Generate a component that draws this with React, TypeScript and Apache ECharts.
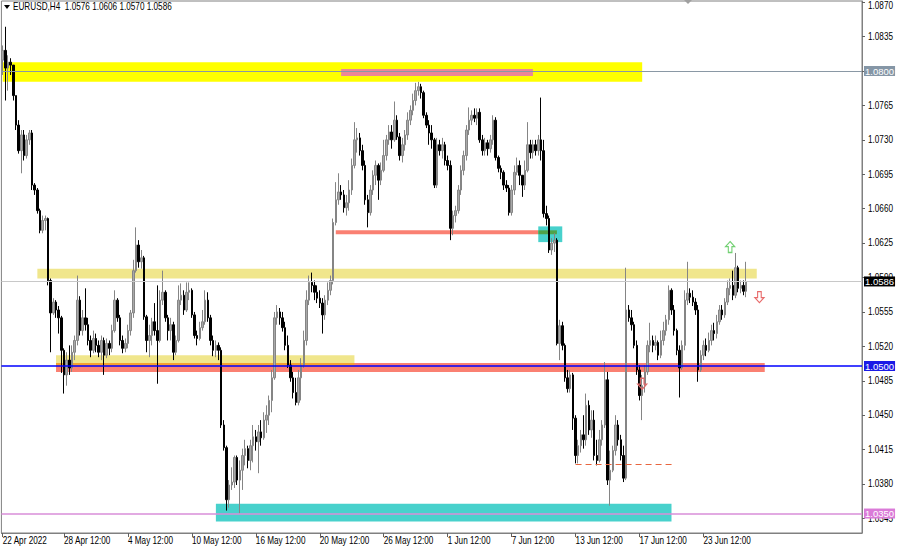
import React, { useEffect, useRef } from "react";
import * as echarts from "echarts";

const symbolName = "EURUSD";
const timeframe = "H4";
const firstOpen = 1.0811;

const closes = [
  1.0821, 1.0803, 1.0809, 1.0806, 1.0775, 1.0745, 1.0719, 1.0735, 1.0714, 1.0730,
  1.0737, 1.0684, 1.0679, 1.0658, 1.0638, 1.0648, 1.0650, 1.0587, 1.0554, 1.0565,
  1.0557, 1.0549, 1.0516, 1.0491, 1.0506, 1.0498, 1.0514, 1.0526, 1.0567, 1.0536,
  1.0549, 1.0542, 1.0526, 1.0516, 1.0528, 1.0521, 1.0514, 1.0526, 1.0511, 1.0523,
  1.0518, 1.0536, 1.0567, 1.0549, 1.0526, 1.0518, 1.0523, 1.0536, 1.0554, 1.0597,
  1.0623, 1.0606, 1.0610, 1.0550, 1.0526, 1.0531, 1.0545, 1.0536, 1.0526, 1.0567,
  1.0575, 1.0549, 1.0536, 1.0542, 1.0514, 1.0526, 1.0567, 1.0572, 1.0557, 1.0575,
  1.0577, 1.0552, 1.0531, 1.0528, 1.0539, 1.0545, 1.0567, 1.0549, 1.0526, 1.0516,
  1.0521, 1.0516, 1.0440, 1.0417, 1.0364, 1.0379, 1.0382, 1.0407, 1.0384, 1.0394,
  1.0409, 1.0416, 1.0404, 1.0419, 1.0428, 1.0423, 1.0433, 1.0427, 1.0445, 1.0450,
  1.0465, 1.0488, 1.0549, 1.0555, 1.0549, 1.0539, 1.0521, 1.0501, 1.0488, 1.0473,
  1.0463, 1.0488, 1.0501, 1.0526, 1.0567, 1.0585, 1.0582, 1.0575, 1.0569, 1.0564,
  1.0552, 1.0567, 1.0577, 1.0587, 1.0646, 1.0669, 1.0677, 1.0674, 1.0661, 1.0666,
  1.0679, 1.0704, 1.0730, 1.0732, 1.0719, 1.0704, 1.0669, 1.0656, 1.0679, 1.0694,
  1.0704, 1.0689, 1.0699, 1.0714, 1.0730, 1.0738, 1.0730, 1.0750, 1.0733, 1.0714,
  1.0725, 1.0735, 1.0750, 1.0760, 1.0770, 1.0780, 1.0784, 1.0778, 1.0755, 1.0745,
  1.0737, 1.0730, 1.0684, 1.0725, 1.0719, 1.0725, 1.0709, 1.0704, 1.0640, 1.0653,
  1.0658, 1.0679, 1.0699, 1.0714, 1.0740, 1.0750, 1.0755, 1.0752, 1.0758, 1.0730,
  1.0719, 1.0727, 1.0721, 1.0730, 1.0750, 1.0712, 1.0701, 1.0697, 1.0684, 1.0681,
  1.0656, 1.0679, 1.0697, 1.0704, 1.0694, 1.0684, 1.0699, 1.0725, 1.0717, 1.0725,
  1.0719, 1.0730, 1.0719, 1.0655, 1.0650, 1.0618, 1.0625, 1.0628, 1.0523, 1.0541,
  1.0521, 1.0488, 1.0477, 1.0491, 1.0447, 1.0409, 1.0419, 1.0430, 1.0425, 1.0460,
  1.0435, 1.0445, 1.0409, 1.0404, 1.0425, 1.0440, 1.0486, 1.0384, 1.0394, 1.0414,
  1.0440, 1.0425, 1.0409, 1.0386, 1.0557, 1.0549, 1.0542, 1.0521, 1.0496, 1.0470,
  1.0480, 1.0494, 1.0521, 1.0526, 1.0521, 1.0524, 1.0511, 1.0526, 1.0536, 1.0547,
  1.0577, 1.0557, 1.0536, 1.0516, 1.0498, 1.0521, 1.0567, 1.0574, 1.0570, 1.0565,
  1.0557, 1.0496, 1.0511, 1.0521, 1.0516, 1.0526, 1.0536, 1.0533, 1.0545, 1.0557,
  1.0552, 1.0565, 1.0579, 1.0582, 1.0572, 1.0600, 1.0579, 1.0582, 1.0576, 1.0586,
];

const highs = [
  1.0826, 1.0845, 1.0816, 1.0813, 1.0806, 1.0775, 1.0750, 1.0740, 1.0740, 1.0735,
  1.0740, 1.0740, 1.0686, 1.0681, 1.0660, 1.0653, 1.0653, 1.0651, 1.0589, 1.0569,
  1.0567, 1.0561, 1.0551, 1.0518, 1.0514, 1.0521, 1.0521, 1.0531, 1.0592, 1.0571,
  1.0557, 1.0579, 1.0549, 1.0531, 1.0536, 1.0533, 1.0526, 1.0531, 1.0529, 1.0528,
  1.0526, 1.0542, 1.0577, 1.0569, 1.0552, 1.0531, 1.0528, 1.0542, 1.0557, 1.0608,
  1.0641, 1.0628, 1.0618, 1.0612, 1.0552, 1.0542, 1.0549, 1.0564, 1.0582, 1.0577,
  1.0597, 1.0577, 1.0552, 1.0549, 1.0545, 1.0531, 1.0582, 1.0584, 1.0577, 1.0585,
  1.0585, 1.0579, 1.0555, 1.0536, 1.0545, 1.0557, 1.0577, 1.0575, 1.0552, 1.0531,
  1.0526, 1.0524, 1.0519, 1.0445, 1.0419, 1.0384, 1.0397, 1.0409, 1.0409, 1.0404,
  1.0416, 1.0425, 1.0419, 1.0425, 1.0440, 1.0435, 1.0440, 1.0445, 1.0453, 1.0460,
  1.0470, 1.0496, 1.0555, 1.0562, 1.0559, 1.0555, 1.0545, 1.0531, 1.0506, 1.0494,
  1.0488, 1.0496, 1.0508, 1.0536, 1.0577, 1.0592, 1.0595, 1.0587, 1.0582, 1.0577,
  1.0569, 1.0572, 1.0585, 1.0592, 1.0650, 1.0687, 1.0696, 1.0684, 1.0679, 1.0674,
  1.0689, 1.0711, 1.0748, 1.0742, 1.0737, 1.0725, 1.0709, 1.0674, 1.0684, 1.0699,
  1.0709, 1.0706, 1.0707, 1.0730, 1.0735, 1.0745, 1.0745, 1.0769, 1.0755, 1.0737,
  1.0732, 1.0740, 1.0758, 1.0765, 1.0777, 1.0788, 1.0789, 1.0787, 1.0780, 1.0758,
  1.0750, 1.0745, 1.0732, 1.0732, 1.0730, 1.0732, 1.0728, 1.0714, 1.0709, 1.0658,
  1.0663, 1.0684, 1.0704, 1.0719, 1.0745, 1.0763, 1.0760, 1.0762, 1.0762, 1.0762,
  1.0735, 1.0732, 1.0730, 1.0735, 1.0755, 1.0753, 1.0714, 1.0704, 1.0699, 1.0689,
  1.0684, 1.0684, 1.0704, 1.0712, 1.0709, 1.0694, 1.0709, 1.0748, 1.0730, 1.0730,
  1.0730, 1.0735, 1.0773, 1.0730, 1.0663, 1.0653, 1.0630, 1.0635, 1.0630, 1.0547,
  1.0545, 1.0523, 1.0496, 1.0496, 1.0493, 1.0450, 1.0425, 1.0435, 1.0450, 1.0472,
  1.0465, 1.0455, 1.0455, 1.0425, 1.0435, 1.0445, 1.0504, 1.0494, 1.0414, 1.0419,
  1.0450, 1.0445, 1.0430, 1.0419, 1.0600, 1.0562, 1.0557, 1.0545, 1.0526, 1.0501,
  1.0491, 1.0501, 1.0526, 1.0544, 1.0531, 1.0531, 1.0526, 1.0536, 1.0545, 1.0552,
  1.0582, 1.0579, 1.0562, 1.0538, 1.0521, 1.0526, 1.0577, 1.0606, 1.0579, 1.0577,
  1.0569, 1.0562, 1.0516, 1.0526, 1.0528, 1.0534, 1.0542, 1.0544, 1.0552, 1.0562,
  1.0562, 1.0569, 1.0587, 1.0589, 1.0597, 1.0615, 1.0602, 1.0587, 1.0587, 1.0606,
];

const lows = [
  1.0796, 1.0770, 1.0780, 1.0796, 1.0770, 1.0740, 1.0716, 1.0696, 1.0709, 1.0711,
  1.0725, 1.0679, 1.0674, 1.0655, 1.0635, 1.0635, 1.0638, 1.0582, 1.0514, 1.0552,
  1.0549, 1.0533, 1.0493, 1.0472, 1.0480, 1.0491, 1.0494, 1.0506, 1.0521, 1.0531,
  1.0531, 1.0536, 1.0521, 1.0509, 1.0513, 1.0514, 1.0509, 1.0506, 1.0491, 1.0508,
  1.0511, 1.0514, 1.0534, 1.0545, 1.0521, 1.0513, 1.0514, 1.0518, 1.0531, 1.0549,
  1.0595, 1.0600, 1.0599, 1.0547, 1.0514, 1.0509, 1.0521, 1.0531, 1.0482, 1.0524,
  1.0562, 1.0545, 1.0526, 1.0526, 1.0506, 1.0511, 1.0524, 1.0562, 1.0552, 1.0555,
  1.0567, 1.0549, 1.0528, 1.0521, 1.0526, 1.0536, 1.0542, 1.0545, 1.0521, 1.0510,
  1.0509, 1.0506, 1.0437, 1.0414, 1.0353, 1.0356, 1.0374, 1.0376, 1.0379, 1.0350,
  1.0374, 1.0399, 1.0396, 1.0394, 1.0402, 1.0414, 1.0391, 1.0419, 1.0425, 1.0432,
  1.0440, 1.0453, 1.0486, 1.0542, 1.0542, 1.0535, 1.0516, 1.0498, 1.0484, 1.0467,
  1.0460, 1.0460, 1.0465, 1.0498, 1.0521, 1.0562, 1.0575, 1.0567, 1.0564, 1.0559,
  1.0533, 1.0547, 1.0562, 1.0572, 1.0583, 1.0643, 1.0664, 1.0669, 1.0656, 1.0653,
  1.0658, 1.0674, 1.0701, 1.0717, 1.0714, 1.0699, 1.0664, 1.0641, 1.0653, 1.0674,
  1.0684, 1.0669, 1.0684, 1.0697, 1.0709, 1.0725, 1.0721, 1.0728, 1.0730, 1.0709,
  1.0707, 1.0719, 1.0730, 1.0745, 1.0755, 1.0765, 1.0775, 1.0772, 1.0752, 1.0742,
  1.0725, 1.0721, 1.0681, 1.0681, 1.0714, 1.0711, 1.0704, 1.0699, 1.0628, 1.0633,
  1.0646, 1.0655, 1.0674, 1.0694, 1.0709, 1.0735, 1.0745, 1.0748, 1.0745, 1.0727,
  1.0714, 1.0714, 1.0714, 1.0717, 1.0725, 1.0709, 1.0697, 1.0690, 1.0679, 1.0677,
  1.0653, 1.0653, 1.0674, 1.0694, 1.0684, 1.0672, 1.0679, 1.0697, 1.0711, 1.0711,
  1.0714, 1.0714, 1.0709, 1.0651, 1.0643, 1.0615, 1.0613, 1.0616, 1.0521, 1.0506,
  1.0516, 1.0484, 1.0473, 1.0473, 1.0435, 1.0401, 1.0401, 1.0412, 1.0416, 1.0419,
  1.0430, 1.0427, 1.0404, 1.0399, 1.0402, 1.0419, 1.0437, 1.0379, 1.0358, 1.0392,
  1.0409, 1.0419, 1.0404, 1.0382, 1.0384, 1.0545, 1.0536, 1.0518, 1.0491, 1.0465,
  1.0445, 1.0473, 1.0491, 1.0514, 1.0514, 1.0516, 1.0506, 1.0508, 1.0521, 1.0531,
  1.0542, 1.0552, 1.0531, 1.0511, 1.0468, 1.0496, 1.0516, 1.0562, 1.0564, 1.0561,
  1.0552, 1.0484, 1.0494, 1.0506, 1.0510, 1.0514, 1.0521, 1.0526, 1.0528, 1.0542,
  1.0547, 1.0549, 1.0562, 1.0572, 1.0567, 1.0569, 1.0575, 1.0574, 1.0572, 1.0570,
];

// axis
const totalSlots = 323;
const tickBars = [0, 23, 47, 71, 95, 119, 143, 167, 191, 215, 239, 263];
const tickLabels = [
  "22 Apr 2022", "28 Apr 12:00", "4 May 12:00", "10 May 12:00", "16 May 12:00", "20 May 12:00",
  "26 May 12:00", "1 Jun 12:00", "7 Jun 12:00", "13 Jun 12:00", "17 Jun 12:00", "23 Jun 12:00",
];
const priceTicks = [
  1.087, 1.0835, 1.08, 1.0765, 1.073, 1.0695, 1.066, 1.0625, 1.059, 1.0555, 1.052, 1.0485,
  1.045, 1.0415, 1.038, 1.0345,
];
const yMin = 1.03302;
const yMax = 1.08712;

// annotation zones: [fromBar, toBar, lowPrice, highPrice, kind]
const backZones = [[0, 240, 1.0789, 1.0809, "yellow"]];
const frontZones = [
  [127, 199, 1.0795, 1.0802, "pink"],
  [125, 201, 1.0634, 1.0638, "salmon"],
  [201, 210, 1.0626, 1.0642, "teal"],
  [201, 208, 1.0634, 1.0638, "green"],
  [13, 283, 1.0589, 1.0599, "khaki"],
  [20, 132, 1.0503, 1.0511, "khaki"],
  [20, 286, 1.0494, 1.0503, "salmon"],
  [20, 132, 1.05, 1.0503, "orange"],
  [80, 251, 1.0342, 1.036, "teal"],
];
const levelGray = 1.08;
const levelBlue = 1.05;
const levelOrchid = 1.035;
const dashedSegment = [215, 252, 1.04];
const upArrows = [[273, 1.0621]];
const downArrowsFront = [[284, 1.057]];
const downArrowsBack = [[240, 1.0482]];

const FONT = "'Liberation Sans', Arial, sans-serif";
const NARROW = 0.82;
const zoneColors: Record<string, string> = {
  yellow: "#ffff00",
  pink: "#ec8796",
  salmon: "#fa8072",
  teal: "#48d1cc",
  green: "#4fa24a",
  khaki: "#f0e68c",
  orange: "#f5a030",
};
const UP_PATH = "path://M5,0 L10,5.5 L7,5.5 L7,12 L3,12 L3,5.5 L0,5.5 Z";
const DOWN_PATH = "path://M3,0 L7,0 L7,6.5 L10,6.5 L5,12 L0,6.5 L3,6.5 Z";

function zoneData(zones: any[]) {
  return zones.map(([a, b, lo, hi, kind]) => [
    { xAxis: a, yAxis: hi, itemStyle: { color: zoneColors[kind], opacity: 1, borderWidth: 0 } },
    { xAxis: b, yAxis: lo },
  ]);
}

function levelLabel(bg: string) {
  return {
    show: true,
    position: "end" as const,
    distance: 2,
    color: "#ffffff",
    backgroundColor: bg,
    padding: [1, 1, 0, 1],
    fontSize: 9.5,
    lineHeight: 9,
    fontFamily: FONT,
    formatter: (p: any) => Number(p.value).toFixed(4),
  };
}

function arrowPoints(list: number[][], path: string, color: string) {
  return list.map(([b, p]) => ({
    coord: [b, p],
    symbol: path,
    symbolSize: [9, 11],
    itemStyle: { color: "rgba(255,255,255,0)", borderColor: color, borderWidth: 1.2 },
    label: { show: false },
  }));
}

export default function App() {
  const ref = useRef<HTMLDivElement>(null);
  useEffect(() => {
    if (!ref.current) return;
    const chart = echarts.init(ref.current, null, { renderer: "svg" });
    const n = closes.length;
    const categories = Array.from({ length: totalSlots }, (_, i) => String(i));
    const ohlc = closes.map((c, i) => [i === 0 ? firstOpen : closes[i - 1], c, lows[i], highs[i]]);
    const empty = closes.map(() => null);
    const tickSet = new Set(tickBars);
    const last = n - 1;
    const header = `${symbolName},${timeframe}  ${ohlc[last][0].toFixed(4)} ${highs[last].toFixed(4)} ${lows[last].toFixed(4)} ${closes[last].toFixed(4)}`;
    const bid = closes[last];

    const helper = (name: string, z: number, extra: any) => ({
      name,
      type: "line",
      data: empty,
      z,
      symbol: "none",
      silent: true,
      lineStyle: { opacity: 0 },
      ...extra,
    });

    chart.setOption({
      animation: false,
      backgroundColor: "#ffffff",
      textStyle: { fontFamily: FONT },
      grid: {
        left: 1.4,
        right: 38,
        top: 1,
        bottom: 14,
        show: true,
        borderColor: "#808080",
        borderWidth: 1,
        backgroundColor: "#ffffff",
      },
      xAxis: {
        type: "category",
        data: categories,
        boundaryGap: true,
        axisLine: { show: true, lineStyle: { color: "#808080", width: 1 } },
        axisTick: {
          show: true,
          alignWithLabel: true,
          length: 4,
          interval: (idx: number) => tickSet.has(idx),
          lineStyle: { color: "#606060" },
        },
        axisLabel: { show: false },
        splitLine: { show: false },
      },
      yAxis: {
        type: "value",
        position: "right",
        min: yMin,
        max: yMax,
        scale: true,
        axisLine: { show: true, lineStyle: { color: "#808080", width: 1 } },
        axisTick: {
          show: true,
          length: 3,
          customValues: priceTicks,
          lineStyle: { color: "#606060" },
        },
        axisLabel: { show: false },
        splitLine: { show: false },
      },
      series: [
        helper("backZones", 1, {
          markArea: { silent: true, label: { show: false }, data: zoneData(backZones) },
          markPoint: { silent: true, data: arrowPoints(downArrowsBack, DOWN_PATH, "#e06a6a") },
        }),
        helper("grayLevel", 2, {
          markLine: {
            silent: true,
            precision: 4,
            symbol: ["none", "none"],
            lineStyle: { color: "#8a98a5", width: 1, type: "solid" },
            label: levelLabel("#8596a6"),
            data: [{ yAxis: levelGray }],
          },
        }),
        helper("frontZones", 3, {
          markArea: { silent: true, label: { show: false }, data: zoneData(frontZones) },
        }),
        {
          name: symbolName,
          type: "candlestick",
          z: 4,
          data: ohlc,
          barWidth: 2,
          itemStyle: {
            color: "#a9a9a9",
            borderColor: "#858585",
            color0: "#000000",
            borderColor0: "#000000",
            borderWidth: 1,
          },
        },
        helper("levels", 5, {
          markLine: {
            silent: true,
            precision: 4,
            symbol: ["none", "none"],
            data: [
              { yAxis: bid, lineStyle: { color: "#c8c8c8", width: 1, type: "solid" }, label: levelLabel("#000000") },
              { yAxis: levelBlue, lineStyle: { color: "#0000ff", width: 1.5, type: "solid" }, label: levelLabel("#1a1ae6") },
              { yAxis: levelOrchid, lineStyle: { color: "#d98ed9", width: 1.5, type: "solid" }, label: levelLabel("#da7bd8") },
              [
                {
                  coord: [dashedSegment[0], dashedSegment[2]],
                  lineStyle: { color: "#e8663f", width: 1, type: [6, 4] },
                  label: { show: false },
                },
                { coord: [dashedSegment[1], dashedSegment[2]] },
              ],
            ],
          },
        }),
        helper("arrows", 6, {
          markPoint: {
            silent: true,
            data: [
              ...arrowPoints(upArrows, UP_PATH, "#72d072"),
              ...arrowPoints(downArrowsFront, DOWN_PATH, "#e86b6b"),
            ],
          },
        }),
      ],
    });

    // tick labels placed through the chart's own scales, drawn narrow like the terminal font
    const xTexts = tickBars.map((b, k) => ({
      type: "text",
      x: chart.convertToPixel({ xAxisIndex: 0 }, categories[b]),
      y: 536,
      scaleX: NARROW,
      silent: true,
      z: 0,
      style: { text: tickLabels[k], fontSize: 10, fontFamily: FONT, fill: "#000000", align: "left", verticalAlign: "top" },
    }));
    const yTexts = priceTicks.map((v) => ({
      type: "text",
      x: 868,
      y: Math.max(6, chart.convertToPixel({ yAxisIndex: 0 }, v)),
      scaleX: NARROW,
      silent: true,
      z: 0,
      style: { text: v.toFixed(4), fontSize: 10, fontFamily: FONT, fill: "#000000", align: "left", verticalAlign: "middle" },
    }));

    chart.setOption({
      graphic: [
        ...xTexts,
        ...yTexts,
        { type: "polygon", z: 10, shape: { points: [[4, 5], [10, 5], [7, 9]] }, style: { fill: "#000000" } },
        {
          type: "text",
          x: 13,
          y: 2,
          z: 10,
          scaleX: NARROW,
          style: { text: header, fontSize: 10, fontFamily: FONT, fill: "#000000", align: "left", verticalAlign: "top" },
        },
        { type: "polygon", z: 10, shape: { points: [[684, 0], [692, 0], [688, 4]] }, style: { fill: "#a0a0a0" } },
      ],
    });
    return () => chart.dispose();
  }, []);
  return (
    <div
      ref={ref}
      style={{ position: "fixed", left: 0, top: 0, width: 900, height: 547, background: "#fff" }}
    />
  );
}
